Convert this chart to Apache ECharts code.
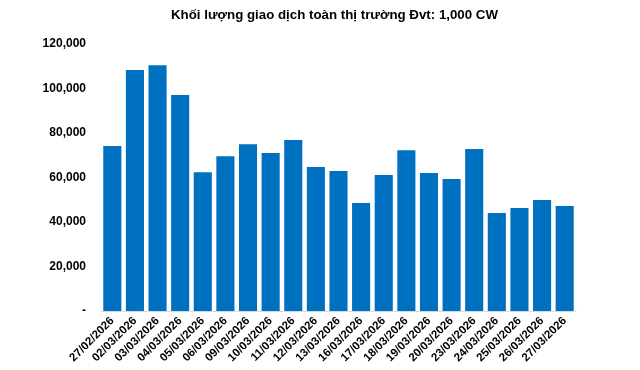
<!DOCTYPE html>
<html>
<head>
<meta charset="utf-8">
<script src="https://cdn.jsdelivr.net/npm/echarts@6/dist/echarts.min.js"></script>
<style>
html,body{margin:0;padding:0;background:#fff;}
#chart{width:640px;height:370px;}
</style>
</head>
<body>
<div id="chart"></div>
<script>
const titleText = 'Khối lượng giao dịch toàn thị trường Đvt: 1,000 CW';
const categories = ['27/02/2026','02/03/2026','03/03/2026','04/03/2026','05/03/2026','06/03/2026','09/03/2026','10/03/2026','11/03/2026','12/03/2026','13/03/2026','16/03/2026','17/03/2026','18/03/2026','19/03/2026','20/03/2026','23/03/2026','24/03/2026','25/03/2026','26/03/2026','27/03/2026'];
const volumes = [74200,108300,110500,97100,62400,69600,75000,71000,76800,64700,62900,48500,61100,72300,62000,59300,72800,44000,46300,49900,47200];
const yMin = 0, yMax = 120000, yStep = 20000;

const chart = echarts.init(document.getElementById('chart'), null, {renderer:'canvas'});
chart.setOption({
  animation:false,
  backgroundColor:'#ffffff',
  title:{
    text:titleText, left:166, top:4,
    textStyle:{fontFamily:'Liberation Sans, Arial, sans-serif', fontSize:13.3, fontWeight:'bold', color:'#000'}
  },
  grid:{left:101, right:64, top:44, bottom:59, containLabel:false},
  xAxis:{
    type:'category', data:categories,
    axisLine:{show:true, lineStyle:{color:'#d9d9d9', width:1}},
    axisTick:{show:false},
    axisLabel:{interval:0, rotate:45, margin:8, color:'#000',
      fontFamily:'Liberation Sans, Arial, sans-serif', fontSize:11.5, fontWeight:'bold'}
  },
  yAxis:{
    type:'value', min:yMin, max:yMax, interval:yStep,
    axisLine:{show:false}, axisTick:{show:false},
    splitLine:{show:false},
    axisLabel:{margin:15, color:'#000',
      fontFamily:'Liberation Sans, Arial, sans-serif', fontSize:12, fontWeight:'bold',
      formatter:function(v){ return v===0 ? '-' : v.toLocaleString('en-US'); }}
  },
  series:[{
    type:'bar', data:volumes, barCategoryGap:'20%',
    itemStyle:{color:'#0070C0'}
  }]
});
</script>
</body>
</html>
